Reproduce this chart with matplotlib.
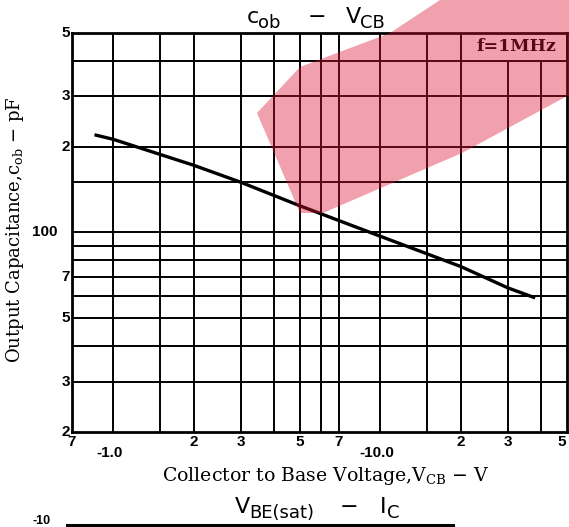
import matplotlib
matplotlib.use("Agg")
import matplotlib.pyplot as plt
from matplotlib.patches import Rectangle, Polygon
import numpy as np

# ---- data ----
vcb = [0.85, 1.0, 2.0, 3.0, 5.0, 10.0, 20.0, 30.0, 38.0]          # |V_CB| (V)
cob = [220, 212, 172, 150, 124, 97, 76, 64, 59]                   # c_ob (pF, as labelled)

x_grid = [1, 1.5, 2, 3, 4, 5, 6, 7, 10, 15, 20, 30, 40]
y_grid = [30, 40, 50, 60, 70, 80, 90, 100, 150, 200, 300, 400]

xtick_vals = [0.7, 1, 2, 3, 5, 7, 10, 20, 30, 50]
xtick_labels = ["7", "-1.0", "2", "3", "5", "7", "-10.0", "2", "3", "5"]
ytick_vals = [500, 300, 200, 100, 70, 50, 30, 20]
ytick_labels = ["5", "3", "2", "100", "7", "5", "3", "2"]

W, H = 569, 527
fig = plt.figure(figsize=(W / 100, H / 100), dpi=100)
ax = fig.add_axes([72 / W, 1 - 432 / H, (567 - 72) / W, (432 - 33) / H])
ax.set_xscale("log")
ax.set_yscale("log")
ax.set_xlim(0.7, 50)
ax.set_ylim(20, 500)
ax.set_xticks([]); ax.set_yticks([])
ax.minorticks_off()
for s in ax.spines.values():
    s.set_linewidth(2.0)

box_x = (20, 50)
box_y = (400, 500)
for xv in x_grid:
    top = 1.0
    if box_x[0] < xv < box_x[1]:
        top = (np.log10(box_y[0]) - np.log10(20)) / (np.log10(500) - np.log10(20))
    ax.axvline(xv, ymax=top, color="black", lw=1.4, zorder=1)
for yv in y_grid:
    ax.axhline(yv, color="black", lw=1.4, zorder=1)

ax.add_patch(Rectangle((box_x[0], box_y[0]), box_x[1] - box_x[0], box_y[1] - box_y[0],
                       facecolor="white", edgecolor="black", lw=1.4, zorder=2))
ax.text(np.sqrt(box_x[0] * box_x[1]) * 1.02, np.sqrt(box_y[0] * box_y[1]), "f=1MHz",
        ha="center", va="center", family="DejaVu Serif", fontweight="bold",
        fontsize=12.5, zorder=3)

ax.plot(vcb, cob, color="black", lw=2.4, zorder=3, solid_capstyle="butt")

# tick labels
tkfont = dict(family="Liberation Sans", fontweight="bold", fontsize=11)
xt = ax.get_xaxis_transform()
n = len(xtick_vals)
for i, (v, lab) in enumerate(zip(xtick_vals, xtick_labels)):
    ha = "right" if i == n - 1 else "center"
    xv = v * 0.995 if i == n - 1 else v
    if lab.startswith("-"):
        ax.text(v * 0.97, -0.052, lab, transform=xt, ha="center", va="center", **tkfont)
    else:
        ax.text(xv, -0.025, lab, transform=xt, ha=ha, va="center", **tkfont)
yt = ax.get_yaxis_transform()
for v, lab in zip(ytick_vals, ytick_labels):
    xoff = -0.03 if lab == "100" else -0.004
    ax.text(xoff, v, lab, transform=yt, ha="right", va="center", **tkfont)

# axis labels
fig.text(326 / W, 1 - 476 / H, r"Collector to Base Voltage,V$_{\mathregular{CB}}$ $-$ V",
         ha="center", va="center", family="DejaVu Serif", fontsize=13.6)
fig.text(15 / W, 1 - 230 / H, r"Output Capacitance,c$_{\mathregular{ob}}$ $-$ pF",
         ha="center", va="center", rotation=90, family="DejaVu Serif", fontsize=13.0)

# title (pieces)
tfont = dict(family="DejaVu Sans", fontsize=16, va="baseline")
sfont = dict(family="DejaVu Sans", fontsize=13, va="baseline")
def title_pieces(y, parts):
    for x, txt, kind in parts:
        f = tfont if kind == "m" else sfont
        dy = 0 if kind == "m" else -5
        fig.text(x / W, 1 - (y - dy) / H, txt, ha="left", **f)

title_pieces(23, [(247, "c", "m"), (258, "ob", "s"), (308, "\u2212", "m"),
                  (346, "V", "m"), (360, "CB", "s")])
# next chart (cut off)
title_pieces(513, [(235, "V", "m"), (249, "BE(sat)", "s"), (340, "\u2212", "m"),
                   (380, "I", "m"), (387, "C", "s")])
fig.text(42 / W, 1 - 521 / H, "-10", ha="center", va="center", family="Liberation Sans",
         fontweight="bold", fontsize=9)
fig.add_artist(plt.Line2D([67 / W, 453 / W], [1 - 525 / H, 1 - 525 / H], color="black", lw=2.2))

# watermark (approximate)
wm = [(257, 113), (300, 213), (323, 213), (462, 153), (569, 95), (569, 0),
      (440, 0), (390, 33), (300, 67)]
fig.add_artist(Polygon([(px / W, 1 - py / H) for px, py in wm], closed=True,
                       facecolor=(0.86, 0.08, 0.2), alpha=0.4, edgecolor="none", zorder=10))

fig.savefig("out.png", dpi=100)
